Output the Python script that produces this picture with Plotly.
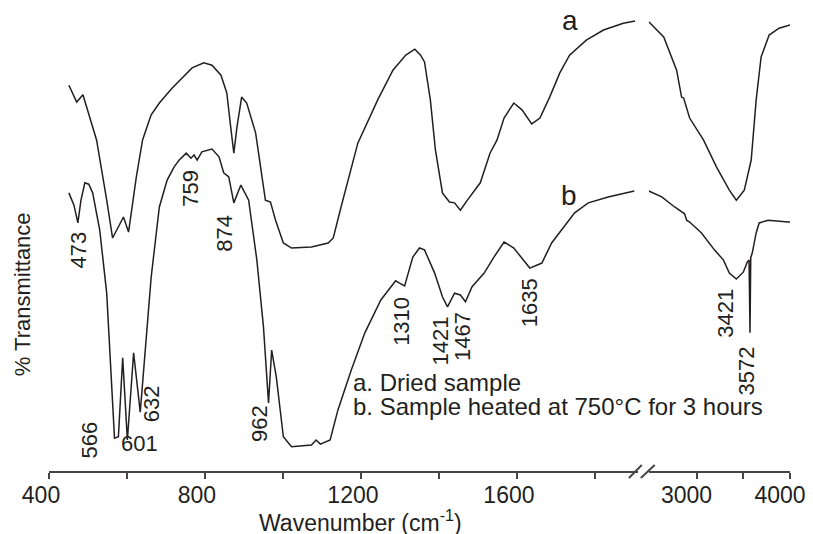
import plotly.graph_objects as go

# Curve a (dried sample) -- low-wavenumber segment
a_low_wn = [451, 471, 487, 522, 548, 563, 591, 604, 624, 640, 662, 683, 716, 747, 767,
            797, 818, 841, 856, 866, 874, 882, 894, 907, 930, 955, 968, 981, 1001, 1022,
            1073, 1116, 1129, 1149, 1192, 1243, 1282, 1315, 1338, 1353, 1363, 1378, 1391,
            1409, 1427, 1440, 1455, 1473, 1506, 1531, 1549, 1567, 1592, 1613, 1638, 1659,
            1684, 1710, 1735, 1778, 1822, 1873, 1903]
a_low_t = [84.6, 80.9, 82.5, 72.6, 59.4, 51.1, 55.7, 52.4, 64.5, 72.6, 78.1, 80.7, 84.0,
           86.8, 88.4, 89.5, 89.0, 86.8, 82.9, 75.4, 69.7, 75.4, 82.0, 80.7, 74.1, 59.4,
           59.0, 55.0, 50.0, 48.9, 49.1, 50.0, 51.1, 57.9, 71.9, 81.4, 87.9, 91.2, 92.5,
           91.2, 89.7, 81.4, 70.4, 61.0, 59.0, 58.8, 57.2, 59.4, 63.2, 69.7, 72.6, 77.4,
           80.7, 79.2, 76.1, 77.4, 82.0, 87.3, 91.2, 94.5, 96.7, 98.2, 98.7]

# Curve a -- high-wavenumber segment
a_high_wn = [2489, 2649, 2787, 2840, 2862, 2894, 2926, 3074, 3213, 3351, 3426, 3511,
             3585, 3638, 3691, 3777, 3883, 4000]
a_high_t = [98.5, 95.2, 87.9, 82.0, 81.8, 79.5, 77.4, 72.6, 66.7, 61.6, 59.4, 61.6,
            68.2, 81.4, 90.8, 95.6, 97.1, 97.8]

# Curve b (heated at 750 C) -- low-wavenumber segment
b_low_wn = [451, 464, 474, 482, 492, 502, 512, 530, 548, 561, 568, 578, 589, 601, 617,
            634, 645, 662, 683, 703, 721, 734, 752, 764, 772, 780, 792, 818, 836, 848,
            861, 874, 892, 912, 933, 950, 963, 971, 983, 1001, 1022, 1073, 1085, 1096,
            1121, 1141, 1175, 1210, 1251, 1289, 1299, 1312, 1333, 1350, 1363, 1389, 1409,
            1422, 1440, 1455, 1468, 1485, 1516, 1541, 1567, 1592, 1633, 1664, 1689, 1715,
            1748, 1783, 1834, 1901]
b_low_t = [61.0, 58.3, 54.4, 59.4, 63.2, 62.9, 61.0, 52.9, 39.0, 17.1, 7.2, 7.5, 24.8,
           6.8, 25.9, 12.9, 24.3, 42.5, 57.9, 63.8, 66.7, 68.2, 69.7, 68.6, 69.3, 68.2,
           70.0, 70.6, 68.9, 65.4, 64.5, 58.8, 62.7, 59.4, 46.3, 31.6, 14.9, 26.5, 20.6,
           7.5, 5.3, 5.7, 6.8, 5.9, 6.8, 13.4, 22.1, 30.3, 37.5, 41.7, 41.2, 40.6, 46.9,
           48.9, 48.5, 43.4, 38.2, 36.0, 39.0, 38.6, 37.1, 40.4, 43.4, 46.9, 50.2, 48.9,
           44.5, 45.6, 50.0, 52.9, 56.6, 58.8, 60.1, 61.4]

# Curve b -- high-wavenumber segment
b_high_wn = [2489, 2628, 2766, 2872, 2894, 2926, 3053, 3191, 3287, 3351, 3426, 3500,
             3543, 3562, 3572, 3580, 3596, 3638, 3670, 3766, 3979, 4000]
b_high_t = [61.4, 60.1, 57.9, 56.4, 55.0, 54.6, 52.2, 48.5, 46.3, 43.4, 42.1, 43.6,
            45.8, 46.3, 30.3, 46.8, 47.8, 52.2, 54.4, 55.0, 54.6, 54.6]

# Peak labels: text, axis, label x (cm-1), label y, rotated
peak_text = ["473", "566", "601", "632", "759", "874", "962", "1310", "1421", "1467",
             "1635", "3421", "3572"]
peak_axis = ["x", "x", "x", "x", "x", "x", "x", "x", "x", "x", "x", "x2", "x2"]
peak_x = [476, 504, 632, 665, 764, 851, 938, 1305, 1404, 1462, 1631, 3309, 3532]
peak_y = [48.5, 6.8, 6.1, 14.7, 62.1, 52.2, 10.5, 32.9, 28.5, 29.4, 36.8, 34.6, 21.9]
peak_rot = [True, True, False, True, True, True, True, True, True, True, True, True, True]

legend_lines = ["a. Dried sample", "b. Sample heated at 750°C for 3 hours"]

INK = "#231f20"
AXIS = "#4a4446"
FONT = "Liberation Sans, Arial, sans-serif"

fig = go.Figure()
line = dict(color=INK, width=1.5)
fig.add_trace(go.Scatter(x=a_low_wn, y=a_low_t, mode="lines", line=line, xaxis="x", yaxis="y"))
fig.add_trace(go.Scatter(x=b_low_wn, y=b_low_t, mode="lines", line=line, xaxis="x", yaxis="y"))
fig.add_trace(go.Scatter(x=a_high_wn, y=a_high_t, mode="lines", line=line, xaxis="x2", yaxis="y"))
fig.add_trace(go.Scatter(x=b_high_wn, y=b_high_t, mode="lines", line=line, xaxis="x2", yaxis="y"))

axis_common = dict(
    showline=True, linecolor=AXIS, linewidth=2, ticks="outside", ticklen=6,
    tickwidth=1.5, tickcolor=AXIS, showgrid=False, zeroline=False,
    tickfont=dict(size=23, color=INK, family=FONT), anchor="y",
    ticklabelstandoff=-4,
)

# the page body adds an 8px margin, so the figure is sized/offset to compensate
fig.update_layout(
    width=805, height=526,
    margin=dict(l=41, r=19, t=7, b=63),
    paper_bgcolor="white", plot_bgcolor="white",
    showlegend=False,
    font=dict(family=FONT, color=INK),
    xaxis=dict(domain=[0, 0.7946], range=[400, 1910],
               tickvals=[400, 800, 1200, 1600], ticklabelshift=-8,
               minor=dict(tickvals=[600, 1000, 1400, 1800], ticks="outside", ticklen=6,
                          tickwidth=1.5, tickcolor=AXIS),
               **axis_common),
    xaxis2=dict(domain=[0.8094, 1], range=[2489, 4000],
                tickvals=[3000, 4000], ticklabelshift=-10,
                minor=dict(tickvals=[3500], ticks="outside", ticklen=6,
                           tickwidth=1.5, tickcolor=AXIS),
                **axis_common),
    yaxis=dict(range=[0, 100], showticklabels=False, showgrid=False,
               zeroline=False, showline=False, ticks=""),
)

annotations = []
for txt, ax, px, py, rot in zip(peak_text, peak_axis, peak_x, peak_y, peak_rot):
    annotations.append(dict(
        x=px, y=py, xref=ax, yref="y", text=txt, showarrow=False,
        textangle=-90 if rot else 0, font=dict(size=22, color=INK, family=FONT),
    ))

# curve tags
annotations.append(dict(x=1736, y=98.8, xref="x", yref="y", text="a", showarrow=False,
                        font=dict(size=28, color=INK, family=FONT)))
annotations.append(dict(x=1734, y=60.5, xref="x", yref="y", text="b", showarrow=False,
                        font=dict(size=28, color=INK, family=FONT)))

# legend text
for txt, ly in zip(legend_lines, [19.3, 14.2]):
    annotations.append(dict(x=1175, y=ly, xref="x", yref="y", text=txt, showarrow=False,
                            xanchor="left", font=dict(size=24, color=INK, family=FONT)))

# axis titles
annotations.append(dict(x=-0.0362, y=0.388, xref="paper", yref="paper", text="% Transmittance",
                        xanchor="center", yanchor="middle", textangle=-90, showarrow=False,
                        font=dict(size=22, color=INK, family=FONT)))
annotations.append(dict(x=0.42, y=-0.1096, xref="paper", yref="paper",
                        text="Wavenumber (cm<sup>-1</sup>)", showarrow=False,
                        xanchor="center", yanchor="middle",
                        font=dict(size=23, color=INK, family=FONT)))
fig.update_layout(annotations=annotations)

# axis break marks
for x0, x1 in [(0.7826, 0.8000), (0.7987, 0.8174)]:
    fig.add_shape(type="line", xref="paper", yref="paper", x0=x0, x1=x1,
                  y0=-0.0153, y1=0.0132, line=dict(color=AXIS, width=2))

fig.write_html("out.html")
